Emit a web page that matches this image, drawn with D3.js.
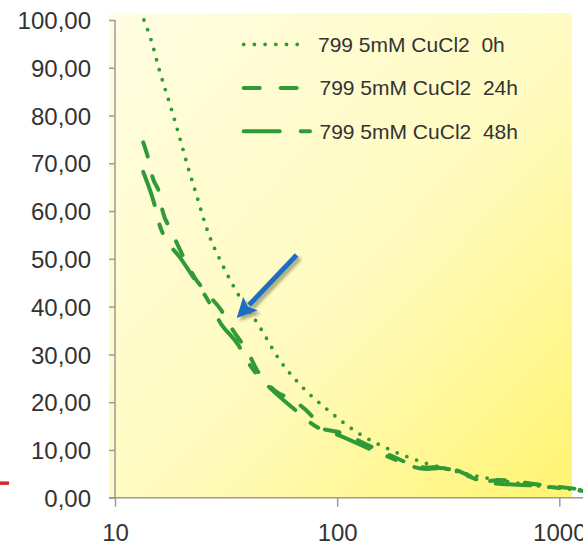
<!DOCTYPE html>
<html>
<head>
<meta charset="utf-8">
<script src="https://cdn.jsdelivr.net/npm/d3@7"></script>
<style>
html,body{margin:0;padding:0;background:#fff;}
svg{display:block;font-family:"Liberation Sans",Arial,sans-serif;}
</style>
</head>
<body>
<svg id="chart" width="583" height="546"></svg>
<script>
// ---- data ----
const seriesNames = ["799 5mM CuCl2  0h", "799 5mM CuCl2  24h", "799 5mM CuCl2  48h"];
const x0h  = [13.5, 14.5, 15.8, 16.8, 17.9, 19.0, 20.1, 21.3, 22.7, 26.6, 30.2, 35.3, 44.6, 55.7, 68.0, 92.8, 120, 174, 256, 400, 600, 900, 1300];
const y0h  = [100, 96.0, 89.7, 85.6, 81.5, 77.4, 73.4, 69.2, 65.0, 54.8, 49.1, 43.1, 35.9, 28.5, 23.7, 18.0, 14.0, 10.0, 7.1, 4.8, 3.3, 2.2, 1.6];
const x24h = [13.4, 14.1, 14.8, 15.8, 16.4, 17.7, 20.7, 22.9, 25.7, 30.0, 33.9, 39.7, 43.6, 52.5, 63.3, 76.8, 83.7, 100, 167, 253, 290, 487, 531, 818, 1281];
const y24h = [74.4, 71.1, 66.9, 63.8, 59.9, 56.4, 49.7, 46.0, 43.0, 39.3, 35.1, 30.4, 26.7, 22.4, 20.4, 17.1, 14.6, 13.8, 9.2, 6.3, 6.5, 3.5, 3.7, 2.7, 1.7];
const x48h = [13.4, 15.1, 15.9, 17.1, 19.6, 22.9, 25.7, 30.2, 36.1, 38.5, 42.7, 49.3, 64.6, 81, 100, 167, 253, 290, 487, 818, 1281];
const y48h = [68.2, 61.2, 57.0, 53.9, 50.3, 45.6, 42.0, 36.2, 31.8, 29.3, 26.3, 23.2, 18.4, 14.8, 13.2, 8.7, 6.0, 6.2, 3.1, 2.45, 1.4];
const yTicks = [0, 10, 20, 30, 40, 50, 60, 70, 80, 90, 100];
const xTicks = [10, 100, 1000];
// annotation arrow (data coords): tail -> tip
const arrowTail = [65.7, 50.8];
const arrowTip  = [35.3, 37.6];

// ---- layout ----
const W = 583, H = 546;
const plot = {left: 109, top: 13, right: 572, bottom: 498};
const svg = d3.select("#chart");
const x = d3.scaleLog().domain([10, 1000]).range([115, 559.3]);
const y = d3.scaleLinear().domain([0, 100]).range([497.7, 20]);
const green = "#2f9a36";
const axisCol = "#9a9a9a";
const textCol = "#333";

const defs = svg.append("defs");
const grad = defs.append("linearGradient").attr("id", "bg")
  .attr("x1", "0").attr("y1", "0").attr("x2", "1").attr("y2", "1");
grad.append("stop").attr("offset", "0").attr("stop-color", "#fffde3");
grad.append("stop").attr("offset", "0.55").attr("stop-color", "#fffbbf");
grad.append("stop").attr("offset", "1").attr("stop-color", "#fff470");
defs.append("clipPath").attr("id", "clip").append("rect")
  .attr("x", plot.left).attr("y", plot.top).attr("width", W - plot.left).attr("height", plot.bottom - plot.top);
const blur = defs.append("filter").attr("id", "shadow").attr("x", "-20%").attr("y", "-20%").attr("width", "140%").attr("height", "140%");
blur.append("feGaussianBlur").attr("stdDeviation", 1.5);

svg.append("rect").attr("x", plot.left).attr("y", plot.top)
  .attr("width", plot.right - plot.left).attr("height", plot.bottom - plot.top)
  .attr("fill", "url(#bg)");

// small red mark at left edge
svg.append("rect").attr("x", 0).attr("y", y(3.1) - 1.5).attr("width", 9).attr("height", 3.5).attr("fill", "#d42a2a");

// axes
const yAxis = d3.axisLeft(y).tickValues(yTicks).tickSize(6).tickSizeOuter(0).tickPadding(18)
  .tickFormat(d => d.toFixed(2).replace(".", ","));
const gy = svg.append("g").attr("transform", `translate(${x(10)},0)`).call(yAxis);
gy.select(".domain").remove();
gy.selectAll("line").attr("stroke", axisCol).attr("stroke-width", 1.5);
gy.selectAll("text").attr("font-size", 24).attr("fill", textCol).attr("dy", "0.36em");
svg.append("line").attr("x1", x(10)).attr("x2", x(10)).attr("y1", y(100)).attr("y2", y(0))
  .attr("stroke", axisCol).attr("stroke-width", 1.5);

const xAxis = d3.axisBottom(x).tickValues(xTicks).tickSize(9).tickSizeOuter(0).tickPadding(17)
  .tickFormat(d3.format("d"));
const gx = svg.append("g").attr("transform", `translate(0,${y(0)})`).call(xAxis);
gx.select(".domain").remove();
gx.selectAll("line").attr("stroke", axisCol).attr("stroke-width", 1.5);
gx.selectAll("text").attr("font-size", 24).attr("fill", textCol);
svg.append("line").attr("x1", plot.left).attr("x2", W).attr("y1", y(0)).attr("y2", y(0))
  .attr("stroke", axisCol).attr("stroke-width", 1.5);

// series
const styles = [
  {dash: "0,10.4", cap: "round", width: 3.8},
  {dash: "15,20", cap: "round", width: 4},
  {dash: "35,20,9,20", cap: "round", width: 4}
];
const series = [
  {xs: x0h, ys: y0h},
  {xs: x24h, ys: y24h},
  {xs: x48h, ys: y48h}
];
const line = d3.line().x(d => x(d[0])).y(d => y(d[1])).curve(d3.curveMonotoneX);
const gl = svg.append("g").attr("clip-path", "url(#clip)");
series.forEach((s, i) => {
  const pts = s.xs.map((v, k) => [v, s.ys[k]]);
  gl.append("path").datum(pts).attr("d", line)
    .attr("fill", "none").attr("stroke", green)
    .attr("stroke-width", styles[i].width)
    .attr("stroke-dasharray", styles[i].dash)
    .attr("stroke-linecap", styles[i].cap)
    .attr("stroke-linejoin", "round");
});

// legend
const lg = svg.append("g");
const legY = [44.4, 88, 131.3];
seriesNames.forEach((name, i) => {
  lg.append("line").attr("x1", 243.7).attr("x2", i === 2 ? 310 : 306)
    .attr("y1", legY[i]).attr("y2", legY[i])
    .attr("stroke", green).attr("stroke-width", styles[i].width)
    .attr("stroke-dasharray", i === 0 ? "0,10.7" : (i === 1 ? "16,21" : "36,21,10,21"))
    .attr("stroke-linecap", styles[i].cap);
  lg.append("text").attr("x", i === 0 ? 318 : 319.5).attr("y", legY[i] + 7.4)
    .attr("font-size", 21).attr("fill", textCol)
    .style("white-space", "pre").attr("xml:space", "preserve")
    .text(name);
});

// arrow annotation
function arrow(g, dx, dy, col, extra) {
  const x1 = x(arrowTail[0]) + dx, y1 = y(arrowTail[1]) + dy;
  const x2 = x(arrowTip[0]) + dx, y2 = y(arrowTip[1]) + dy;
  const ang = Math.atan2(y2 - y1, x2 - x1);
  const hl = 20, hw = 10;
  const bx = x2 - hl * Math.cos(ang), by = y2 - hl * Math.sin(ang);
  const px = -Math.sin(ang), py = Math.cos(ang);
  const a = g.append("g");
  a.append("line").attr("x1", x1).attr("y1", y1).attr("x2", bx + 2 * Math.cos(ang)).attr("y2", by + 2 * Math.sin(ang))
    .attr("stroke", col).attr("stroke-width", 5);
  a.append("path").attr("d", `M${x2},${y2} L${bx + px * hw},${by + py * hw} L${bx + 4 * Math.cos(ang)},${by + 4 * Math.sin(ang)} L${bx - px * hw},${by - py * hw} Z`)
    .attr("fill", col);
  if (extra) a.attr("filter", "url(#shadow)").attr("opacity", 0.55);
}
arrow(svg, 3, 3, "#6b6b40", true);
arrow(svg, 0, 0, "#1a6ec3", false);
</script>
</body>
</html>
